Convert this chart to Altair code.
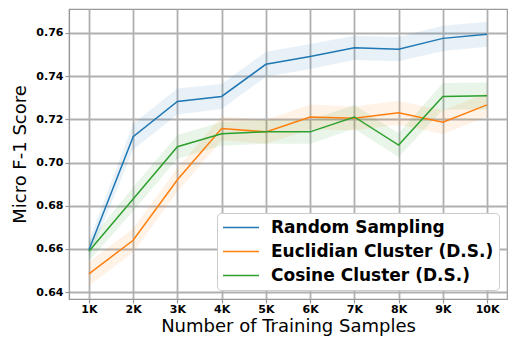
import altair as alt
import pandas as pd

# Training-set sizes (thousands) and mean / spread of Micro F-1 per method
samples = [1, 2, 3, 4, 5, 6, 7, 8, 9, 10]
methods = ["Random Sampling", "Euclidian Cluster (D.S.)", "Cosine Cluster (D.S.)"]
colors = ["#1f77b4", "#ff7f0e", "#2ca02c"]

random_mean = [0.6595, 0.7120, 0.7283, 0.7306, 0.7455, 0.7491, 0.7531, 0.7525, 0.7575, 0.7594]
random_std = [0.0040, 0.0060, 0.0060, 0.0058, 0.0058, 0.0058, 0.0056, 0.0056, 0.0058, 0.0058]

euclid_mean = [0.6484, 0.6640, 0.6920, 0.7158, 0.7142, 0.7211, 0.7205, 0.7230, 0.7187, 0.7267]
euclid_std = [0.0055, 0.0055, 0.0055, 0.0055, 0.0055, 0.0058, 0.0055, 0.0055, 0.0055, 0.0055]

cosine_mean = [0.6589, 0.6831, 0.7073, 0.7133, 0.7142, 0.7142, 0.7211, 0.7081, 0.7306, 0.7309]
cosine_std = [0.0045, 0.0055, 0.0055, 0.0055, 0.0055, 0.0055, 0.0055, 0.0055, 0.0062, 0.0062]

rows = []
for name, means, stds in zip(methods,
                             [random_mean, euclid_mean, cosine_mean],
                             [random_std, euclid_std, cosine_std]):
    for k, m, s in zip(samples, means, stds):
        rows.append({"k": k, "method": name, "band": name,
                     "mean": m, "lo": m - s, "hi": m + s})
df = pd.DataFrame(rows)

# the band fill scale lists the methods alphabetically so it stays a separate
# scale from the line colours (and does not swallow their legend)
band_order = sorted(methods)
band_colors = [colors[methods.index(m)] for m in band_order]

y_scale = alt.Scale(domain=[0.6368, 0.7711], nice=False, zero=False)

x_enc = alt.X(
    "k:Q",
    scale=alt.Scale(domain=[0.55, 10.45], nice=False, zero=False),
    axis=alt.Axis(values=samples, labelExpr="datum.value + 'K'",
                  title="Number of Training Samples"),
)

legend = alt.Legend(
    title=None, orient="none", legendX=148, legendY=204,
    symbolType="stroke", symbolSize=1296, symbolStrokeWidth=1.5,
    labelFont="DejaVu Sans", labelFontSize=17, labelFontWeight="bold",
    labelColor="black", labelOffset=11, rowPadding=5, clipHeight=19,
    padding=5, fillColor="white", strokeColor="#cccccc",
    cornerRadius=4, labelLimit=400,
)

# shaded +/- spread around each mean curve
bands = alt.Chart(df).mark_area(fillOpacity=0.1).encode(
    x=x_enc,
    y=alt.Y("lo:Q", scale=y_scale),
    y2="hi:Q",
    fill=alt.Fill("band:N", scale=alt.Scale(domain=band_order, range=band_colors),
                  legend=None),
)

lines = alt.Chart(df).mark_line(strokeWidth=1.5).encode(
    x=x_enc,
    y=alt.Y("mean:Q", scale=y_scale,
            axis=alt.Axis(values=[0.64, 0.66, 0.68, 0.70, 0.72, 0.74, 0.76],
                          format=".2f", title="Micro F-1 Score")),
    color=alt.Color("method:N", scale=alt.Scale(domain=methods, range=colors),
                    legend=legend),
)

chart = (
    alt.layer(bands, lines)
    .properties(
        width=438, height=290,
        autosize=alt.AutoSizeParams(type="none"),
        padding={"left": 69, "top": 9, "right": 1, "bottom": 42},
        background="white",
    )
    .configure_view(stroke="#999999", strokeWidth=1.2)
    .configure_axis(
        grid=True, gridColor="#b0b0b0", gridWidth=1.8,
        domainColor="#999999", domainWidth=1.2,
        tickColor="#999999", tickSize=4, tickWidth=1.2,
        labelFont="DejaVu Sans", labelFontSize=11, labelFontWeight="bold",
        labelColor="black", labelPadding=2,
        titleFont="DejaVu Sans", titleFontSize=18, titleFontWeight="normal",
        titleColor="black",
    )
    .configure_axisX(titlePadding=3, labelPadding=0)
    .configure_axisY(titlePadding=6)
)

chart.save("out.html", embed_options={"renderer": "svg", "actions": False})
